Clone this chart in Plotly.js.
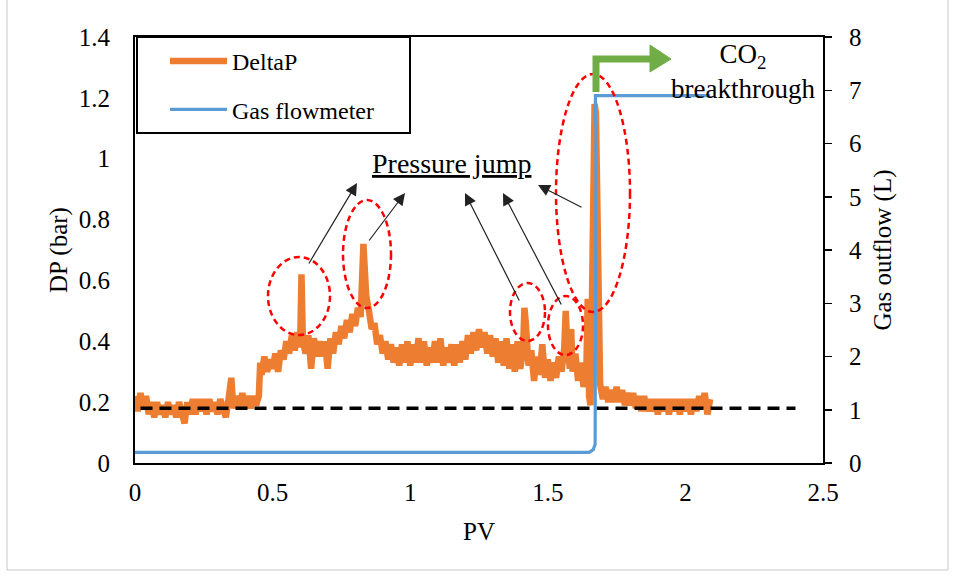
<!DOCTYPE html>
<html><head><meta charset="utf-8">
<script src="https://cdn.plot.ly/plotly-3.0.1.min.js"></script>
<style>html,body{margin:0;padding:0;background:#fff}#chart{width:956px;height:578px}</style>
</head><body><div id="chart"></div>
<script>
// ---------------- DATA ----------------
const pvDeltaP = [
0.00,0.01,0.02,0.03,0.04,0.05,0.06,0.07,0.08,0.09,0.10,0.11,0.12,0.13,0.14,0.15,0.16,0.17,0.18,0.19,
0.20,0.21,0.22,0.23,0.24,0.25,0.26,0.27,0.28,0.29,0.30,0.31,0.32,0.33,0.34,0.35,0.355,0.36,0.37,0.38,
0.39,0.40,0.41,0.42,0.43,0.44,0.45,0.455,0.46,0.47,0.48,0.49,0.50,0.51,0.52,0.53,0.54,0.55,0.56,0.57,
0.58,0.59,0.60,0.605,0.61,0.62,0.63,0.64,0.65,0.66,0.67,0.68,0.69,0.70,0.71,0.72,0.73,0.74,0.75,0.76,
0.77,0.78,0.79,0.80,0.81,0.82,0.83,0.835,0.84,0.85,0.86,0.87,0.88,0.89,0.90,0.91,0.92,0.93,0.94,0.95,
0.96,0.97,0.98,0.99,1.00,1.01,1.02,1.03,1.04,1.05,1.06,1.07,1.08,1.09,1.10,1.11,1.12,1.13,1.14,1.15,
1.16,1.17,1.18,1.19,1.20,1.21,1.22,1.23,1.24,1.25,1.26,1.27,1.28,1.29,1.30,1.31,1.32,1.33,1.34,1.35,
1.36,1.37,1.38,1.39,1.40,1.41,1.415,1.42,1.43,1.44,1.45,1.46,1.47,1.48,1.49,1.50,1.51,1.52,1.53,1.54,
1.55,1.56,1.565,1.57,1.58,1.585,1.59,1.60,1.61,1.62,1.63,1.64,1.645,1.65,1.655,1.66,1.665,1.67,1.675,1.68,
1.685,1.69,1.70,1.71,1.72,1.73,1.74,1.75,1.76,1.77,1.78,1.79,1.80,1.81,1.82,1.83,1.84,1.85,1.86,1.87,
1.88,1.89,1.90,1.91,1.92,1.93,1.94,1.95,1.96,1.97,1.98,1.99,2.00,2.01,2.02,2.03,2.04,2.05,2.06,2.07,
2.08,2.09];
const deltaP = [
0.22,0.17,0.23,0.18,0.22,0.16,0.20,0.15,0.20,0.16,0.19,0.15,0.20,0.16,0.19,0.15,0.20,0.16,0.13,0.20,
0.16,0.21,0.16,0.21,0.17,0.21,0.16,0.21,0.17,0.20,0.16,0.21,0.17,0.15,0.21,0.28,0.21,0.18,0.22,0.18,
0.23,0.18,0.22,0.18,0.22,0.19,0.22,0.33,0.29,0.35,0.30,0.34,0.31,0.36,0.30,0.37,0.34,0.40,0.36,0.42,
0.37,0.43,0.38,0.62,0.40,0.36,0.42,0.31,0.41,0.35,0.40,0.35,0.40,0.31,0.41,0.36,0.43,0.39,0.45,0.41,
0.47,0.43,0.49,0.45,0.51,0.48,0.72,0.62,0.55,0.50,0.44,0.46,0.39,0.42,0.36,0.40,0.34,0.39,0.33,0.38,
0.32,0.39,0.33,0.40,0.32,0.39,0.33,0.41,0.33,0.40,0.32,0.38,0.33,0.40,0.33,0.41,0.32,0.38,0.33,0.39,
0.32,0.39,0.33,0.40,0.34,0.42,0.36,0.43,0.37,0.44,0.38,0.43,0.36,0.42,0.35,0.41,0.33,0.40,0.32,0.41,
0.31,0.39,0.30,0.40,0.31,0.37,0.51,0.46,0.32,0.37,0.27,0.35,0.29,0.39,0.28,0.34,0.27,0.33,0.28,0.35,
0.30,0.38,0.50,0.40,0.31,0.44,0.30,0.36,0.27,0.33,0.25,0.30,0.54,0.22,0.19,0.50,0.90,1.18,1.15,0.80,
0.45,0.26,0.21,0.25,0.20,0.24,0.20,0.25,0.20,0.24,0.19,0.23,0.19,0.23,0.18,0.22,0.17,0.22,0.17,0.21,
0.17,0.21,0.16,0.21,0.17,0.21,0.16,0.21,0.17,0.21,0.16,0.21,0.17,0.21,0.16,0.21,0.17,0.22,0.18,0.23,
0.16,0.21];
const pvGas = [0, 1.65, 1.665, 1.672, 1.675, 1.673, 1.673, 2.09];
const gasOutflow = [0.2, 0.2, 0.25, 0.35, 6.3, 6.4, 6.9, 6.9];
const baselinePV = [0.02, 2.4];
const baselineDP = [0.18, 0.18];
const xTickVals = [0, 0.5, 1, 1.5, 2, 2.5];
const xTickText = ['0', '0.5', '1', '1.5', '2', '2.5'];
const yTickVals = [0, 0.2, 0.4, 0.6, 0.8, 1, 1.2, 1.4];
const yTickText = ['0', '0.2', '0.4', '0.6', '0.8', '1', '1.2', '1.4'];
const y2TickVals = [0, 1, 2, 3, 4, 5, 6, 7, 8];
const y2TickText = ['0', '1', '2', '3', '4', '5', '6', '7', '8'];

// ---------------- LAYOUT HELPERS (decorations only) ----------------
const W = 956, H = 578, L = 135, R = 823, T = 37, B = 463;
const XMAX = 2.5, YMAX = 1.4;
const dx = px => (px - L) / (R - L) * XMAX;
const dy = py => (B - py) / (B - T) * YMAX;
const paperX = px => (px - L) / (R - L);
const paperY = py => (B - py) / (B - T);

const FONT = 'Liberation Serif, Times New Roman, serif';
const ORANGE = '#ED7D31', BLUE = '#5B9BD5', GREEN = '#70AD47';

const traces = [
  {x: pvDeltaP, y: deltaP, type: 'scatter', mode: 'lines', name: 'DeltaP',
   line: {color: ORANGE, width: 6.5}, legendgroup: 'a', yaxis: 'y'},
  {x: baselinePV, y: baselineDP, type: 'scatter', mode: 'lines', name: 'baseline',
   line: {color: '#000', width: 3.5, dash: '12px,7px'}, showlegend: false, yaxis: 'y'},
  {x: pvGas, y: gasOutflow, type: 'scatter', mode: 'lines', name: 'Gas flowmeter',
   line: {color: BLUE, width: 3.2}, legendgroup: 'b', yaxis: 'y2'}
];

function ellipse(x0, x1, y0, y1) {
  return {type: 'circle', xref: 'x', yref: 'y', x0: dx(x0), x1: dx(x1), y0: dy(y0), y1: dy(y1),
    line: {color: '#FF0000', width: 2.5, dash: '6px,4px'}, fillcolor: 'rgba(0,0,0,0)'};
}
function arrow(hx, hy, tx, ty) {
  return {x: dx(hx), y: dy(hy), xref: 'x', yref: 'y', ax: tx - hx, ay: ty - hy, text: '',
    showarrow: true, arrowhead: 2, arrowsize: 2, arrowwidth: 1.2, arrowcolor: '#222'};
}
const gp = (pts) => pts.map((p, i) => (i ? 'L' : 'M') + dx(p[0]) + ',' + dy(p[1])).join(' ');

const shapes = [
  ellipse(268, 330, 257, 335),
  ellipse(343, 391, 200, 308),
  ellipse(510, 545, 283, 341),
  ellipse(548, 583, 296, 355),
  ellipse(556, 630, 74, 312),
  // legend box
  {type: 'rect', xref: 'paper', yref: 'paper', x0: paperX(137), x1: paperX(410), y0: paperY(133), y1: paperY(37),
   line: {color: '#000', width: 2}, fillcolor: 'rgba(0,0,0,0)'},
  // green bent arrow
  {type: 'path', xref: 'x', yref: 'y', path: gp([[596, 92], [596, 59], [652, 59]]),
   line: {color: GREEN, width: 7}},
  {type: 'path', xref: 'x', yref: 'y', path: gp([[650, 45], [671, 59], [650, 72]]) + ' Z',
   line: {color: GREEN, width: 1}, fillcolor: GREEN},
  // outer light border
  {type: 'path', xref: 'paper', yref: 'paper',
   path: 'M' + paperX(7) + ',' + paperY(-5) + ' L' + paperX(7) + ',' + paperY(570) + ' L' + paperX(948) + ',' + paperY(570) + ' L' + paperX(948) + ',' + paperY(-5),
   line: {color: '#c8c8c8', width: 1}}
];

const annotations = [
  arrow(357, 183, 308, 265),
  arrow(405, 193, 368, 242),
  arrow(465, 193, 520, 302),
  arrow(503, 193, 562, 306),
  arrow(538, 185, 583, 208),
  {x: paperX(451), y: paperY(163), xref: 'paper', yref: 'paper', text: '<u>Pressure jump</u>', showarrow: false,
   font: {family: FONT, size: 28, color: '#000'}, xanchor: 'center', yanchor: 'middle'},
  {x: paperX(743), y: paperY(71), xref: 'paper', yref: 'paper', text: 'CO<sub>2</sub><br>breakthrough', showarrow: false,
   font: {family: FONT, size: 27, color: '#000'}, xanchor: 'center', yanchor: 'middle', align: 'center'}
];

const tickFont = {family: FONT, size: 25, color: '#000'};
const layout = {
  width: W, height: H,
  margin: {l: L, r: W - R, t: T, b: H - B, pad: 0},
  paper_bgcolor: '#fff', plot_bgcolor: '#fff',
  showlegend: true,
  legend: {x: paperX(165), y: paperY(39), xanchor: 'left', yanchor: 'top',
    font: {family: FONT, size: 24, color: '#000'}, bgcolor: 'rgba(0,0,0,0)', borderwidth: 0,
    traceorder: 'grouped', tracegroupgap: 14, itemwidth: 57},
  xaxis: {range: [0, XMAX], tickvals: xTickVals, ticktext: xTickText, showgrid: false, zeroline: false,
    showline: true, linecolor: '#000', linewidth: 2, mirror: true, ticks: '', tickfont: tickFont,
    ticklabelstandoff: 6, automargin: false,
    title: {text: 'PV', font: {family: FONT, size: 25, color: '#000'}, standoff: 17}},
  yaxis: {range: [0, YMAX], tickvals: yTickVals, ticktext: yTickText, showgrid: false, zeroline: false,
    showline: true, linecolor: '#000', linewidth: 2, ticks: '', tickfont: tickFont,
    ticklabelstandoff: 18, automargin: false,
    title: {text: 'DP (bar)', font: {family: FONT, size: 25, color: '#000'}, standoff: 4}},
  yaxis2: {range: [0, 8], tickvals: y2TickVals, ticktext: y2TickText, overlaying: 'y', side: 'right',
    showgrid: false, zeroline: false, showline: true, linecolor: '#000', linewidth: 2,
    ticks: 'outside', ticklen: 7, tickwidth: 1.5, tickcolor: '#000', tickfont: tickFont,
    ticklabelstandoff: 12, automargin: false,
    title: {text: 'Gas outflow (L)', font: {family: FONT, size: 25, color: '#000'}, standoff: 12}},
  shapes: shapes,
  annotations: annotations
};

Plotly.newPlot('chart', traces, layout, {displayModeBar: false, staticPlot: true});
</script>
</body></html>
